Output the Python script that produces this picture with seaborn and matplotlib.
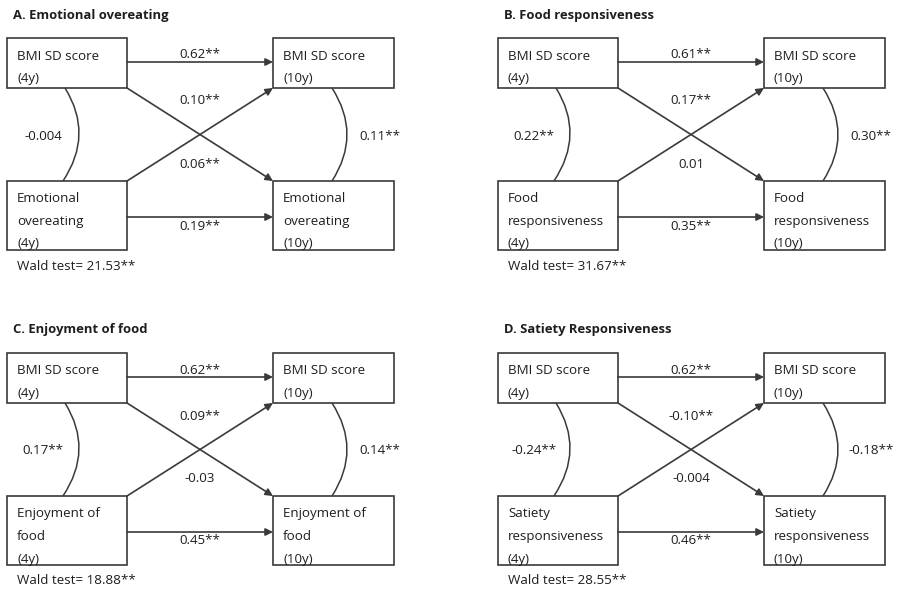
import matplotlib
matplotlib.use("Agg")
import matplotlib.pyplot as plt
from matplotlib.patches import Rectangle, FancyArrowPatch, PathPatch
from matplotlib.path import Path
import seaborn as sns

# ---- data: cross-lagged path models, one per eating behaviour ----
panel_titles = ["A. Emotional overeating", "B. Food responsiveness",
                "C. Enjoyment of food", "D. Satiety Responsiveness"]
behaviour_labels = [["Emotional", "overeating"],
                    ["Food", "responsiveness"],
                    ["Enjoyment of", "food"],
                    ["Satiety", "responsiveness"]]
# stability of BMI SDS (4y -> 10y)
bmi_stability = ["0.62**", "0.61**", "0.62**", "0.62**"]
# BMI SDS (4y) -> behaviour (10y)
bmi_to_behaviour = ["0.10**", "0.17**", "0.09**", "-0.10**"]
# behaviour (4y) -> BMI SDS (10y)
behaviour_to_bmi = ["0.06**", "0.01", "-0.03", "-0.004"]
# stability of behaviour (4y -> 10y)
behaviour_stability = ["0.19**", "0.35**", "0.45**", "0.46**"]
# within-time correlations
corr_4y = ["-0.004", "0.22**", "0.17**", "-0.24**"]
corr_10y = ["0.11**", "0.30**", "0.14**", "-0.18**"]
wald_tests = ["21.53**", "31.67**", "18.88**", "28.55**"]

# ---- drawing ----
sns.set_theme(style="white")
plt.rcParams["font.family"] = ["Open Sans", "DejaVu Sans"]

W, H = 899, 591
fig = plt.figure(figsize=(W / 100, H / 100), dpi=100)
ax = fig.add_axes([0, 0, 1, 1])
ax.set_xlim(0, W)
ax.set_ylim(H, 0)
ax.axis("off")

LINE = "#3a3a3a"
TEXT = "#1e1e1e"
FS = 9.6
FS_TITLE = 9.4

# panel-local geometry (pixels)
LX0, LX1 = 7, 127
RX0, RX1 = 273, 394
TY0, TY1 = 38, 88
BY0, BY1 = 181, 250
offsets = [(0, 0), (491, 0), (0, 315), (491, 315)]


def box(x0, y0, x1, y1, lines):
    ax.add_patch(Rectangle((x0, y0), x1 - x0, y1 - y0, fill=False,
                           ec=LINE, lw=1.2))
    for i, t in enumerate(lines):
        ax.text(x0 + 10, y0 + 18 + i * 22.5, t, fontsize=FS, color=TEXT,
                ha="left", va="center")


def arrow(p0, p1):
    ax.add_patch(FancyArrowPatch(p0, p1, arrowstyle="-|>",
                                 mutation_scale=11, lw=1.2, color=LINE,
                                 shrinkA=0, shrinkB=0))


def arc(p0, p1, bulge):
    mx, my = (p0[0] + p1[0]) / 2, (p0[1] + p1[1]) / 2
    ctrl = (mx + 2 * bulge, my)
    path = Path([p0, ctrl, p1], [Path.MOVETO, Path.CURVE3, Path.CURVE3])
    ax.add_patch(PathPatch(path, fill=False, ec=LINE, lw=1.1))


for k, (dx, dy) in enumerate(offsets):
    def P(x, y):
        return (x + dx, y + dy)

    ax.text(*P(13, 15), panel_titles[k], fontsize=FS_TITLE, fontweight="bold",
            color=TEXT, ha="left", va="center")

    bx = behaviour_labels[k]
    box(*P(LX0, TY0), *P(LX1, TY1), ["BMI SD score", "(4y)"])
    box(*P(RX0, TY0), *P(RX1, TY1), ["BMI SD score", "(10y)"])
    box(*P(LX0, BY0), *P(LX1, BY1), bx + ["(4y)"])
    box(*P(RX0, BY0), *P(RX1, BY1), bx + ["(10y)"])

    arrow(P(LX1, 62), P(RX0, 62))
    arrow(P(LX1, 217), P(RX0, 217))
    arrow(P(LX1, TY1), P(RX0, BY0))
    arrow(P(LX1, BY0), P(RX0, TY1))

    arc(P(65, TY1), P(63, BY0), 15)
    arc(P(332, TY1), P(332, BY0), 15)

    mid = (LX1 + RX0) / 2
    ax.text(*P(mid, 55), bmi_stability[k], fontsize=FS, color=TEXT,
            ha="center", va="center")
    ax.text(*P(mid, 101), bmi_to_behaviour[k], fontsize=FS, color=TEXT,
            ha="center", va="center")
    ax.text(*P(mid, 164), behaviour_to_bmi[k], fontsize=FS, color=TEXT,
            ha="center", va="center")
    ax.text(*P(mid, 226), behaviour_stability[k], fontsize=FS, color=TEXT,
            ha="center", va="center")
    ax.text(*P(43, 136), corr_4y[k], fontsize=FS, color=TEXT,
            ha="center", va="center")
    ax.text(*P(380, 136), corr_10y[k], fontsize=FS, color=TEXT,
            ha="center", va="center")
    ax.text(*P(17, 266), "Wald test= " + wald_tests[k], fontsize=FS,
            color=TEXT, ha="left", va="center")

fig.savefig("out.png", dpi=100, facecolor="white")
